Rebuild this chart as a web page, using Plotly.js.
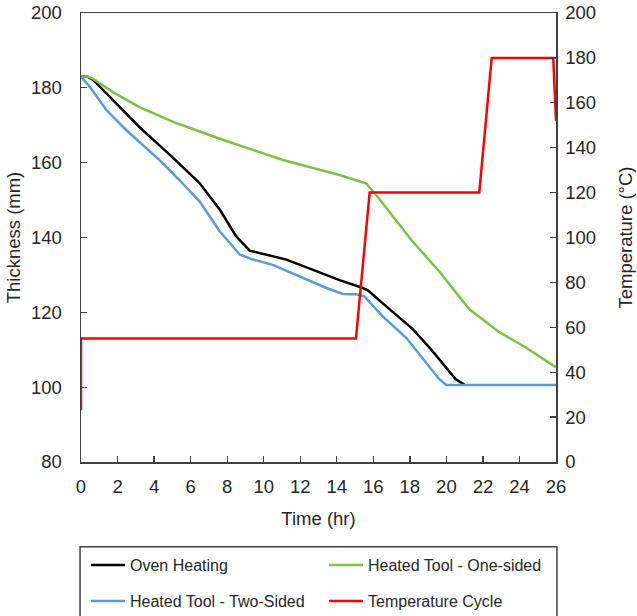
<!DOCTYPE html>
<html>
<head>
<meta charset="utf-8">
<script src="https://cdn.plot.ly/plotly-3.0.1.min.js"></script>
<style>html,body{margin:0;padding:0;background:#fff;}#chart{width:637px;height:616px;}</style>
</head>
<body>
<div id="chart"></div>
<script>
// Oven Heating (thickness, mm)
var ovenTime = [0, 0.35, 0.67, 1.4, 3.2, 5.0, 6.1, 6.5, 7.6, 8.5, 9.23, 10.15, 11.24, 12.88, 14.15, 15.43, 15.7, 16.9, 18.16, 19.16, 19.98, 20.5, 21.0];
var ovenThk  = [183.0, 183.0, 182.1, 178.4, 169.5, 161.5, 156.2, 154.5, 147.4, 140.3, 136.5, 135.4, 134.1, 131.0, 128.6, 126.5, 125.9, 120.8, 115.5, 110.1, 105.3, 102.2, 100.6];

// Heated Tool - One-sided
var oneTime = [0, 0.35, 0.67, 1.77, 3.23, 5.05, 7.6, 9.8, 11.05, 14.15, 15.6, 16.3, 18.07, 19.6, 21.26, 22.9, 24.35, 26];
var oneThk  = [183.0, 183.0, 182.4, 178.8, 174.8, 170.9, 166.4, 162.9, 160.7, 156.7, 154.5, 150.5, 139.4, 131.0, 120.8, 114.7, 110.6, 105.3];

// Heated Tool - Two-Sided
var twoTime = [0, 0.49, 1.4, 2.5, 4.3, 5.4, 6.5, 7.6, 8.7, 9.42, 10.5, 11.97, 13.43, 14.33, 15.07, 15.5, 16.5, 17.8, 18.9, 19.6, 20.0, 26];
var twoThk  = [183.0, 180.2, 174.0, 168.6, 160.7, 155.3, 149.6, 141.6, 135.4, 134.1, 132.7, 129.6, 126.5, 124.9, 124.8, 124.3, 119.0, 113.2, 106.6, 102.2, 100.6, 100.6];

// Temperature Cycle (°C)
var tempTime = [0, 0, 15.05, 15.8, 21.8, 22.48, 25.85, 26];
var tempVal  = [23, 55, 55, 120, 120, 180, 180, 152];

var seriesNames = ['Oven Heating', 'Heated Tool - One-sided', 'Heated Tool - Two-Sided', 'Temperature Cycle'];
var xTicks = [0, 2, 4, 6, 8, 10, 12, 14, 16, 18, 20, 22, 24, 26];
var yTicks = [80, 100, 120, 140, 160, 180, 200];
var y2Ticks = [0, 20, 40, 60, 80, 100, 120, 140, 160, 180, 200];

var FONT = 'Liberation Sans, Arial, sans-serif';
var TXT = '#262626';
var AX = '#404040';

var traces = [
  {x: ovenTime, y: ovenThk, name: seriesNames[0], mode: 'lines', line: {color: '#000000', width: 2.5}, legend: 'legend'},
  {x: oneTime, y: oneThk, name: seriesNames[1], mode: 'lines', line: {color: '#7cc242', width: 2.5}, legend: 'legend2'},
  {x: twoTime, y: twoThk, name: seriesNames[2], mode: 'lines', line: {color: '#5b9bd5', width: 2.5}, legend: 'legend3'},
  {x: tempTime, y: tempVal, name: seriesNames[3], mode: 'lines', line: {color: '#ff0000', width: 2.5}, yaxis: 'y2', legend: 'legend4'}
];

function leg(px, py) {
  return {x: px / 637, xref: 'container', xanchor: 'left',
          y: 1 - py / 616, yref: 'container', yanchor: 'middle', orientation: 'h',
          font: {family: FONT, size: 16, color: TXT}, bgcolor: 'rgba(0,0,0,0)',
          borderwidth: 0, itemwidth: 34};
}

var layout = {
  width: 637, height: 616,
  margin: {l: 81, r: 81, t: 13, b: 154},
  paper_bgcolor: '#ffffff', plot_bgcolor: '#ffffff',
  font: {family: FONT, size: 18.5, color: TXT},
  xaxis: {
    range: [0, 26], tickvals: xTicks, ticktext: xTicks.map(String),
    ticks: 'inside', ticklen: 6, tickwidth: 1.3, tickcolor: AX,
    showline: true, linecolor: AX, linewidth: 1.5, mirror: true,
    showgrid: false, zeroline: false, ticklabelstandoff: 7,
    title: {text: 'Time (hr)', standoff: 16, font: {family: FONT, size: 18.5, color: TXT}}
  },
  yaxis: {
    range: [80, 200], tickvals: yTicks, ticktext: yTicks.map(String),
    ticks: 'inside', ticklen: 6, tickwidth: 1.3, tickcolor: AX,
    showline: true, linecolor: AX, linewidth: 1.5, mirror: true,
    showgrid: false, zeroline: false, ticklabelstandoff: 14,
    title: {text: 'Thickness (mm)', standoff: 5, font: {family: FONT, size: 18.5, color: TXT}}
  },
  yaxis2: {
    range: [0, 200], tickvals: y2Ticks, ticktext: y2Ticks.map(String),
    overlaying: 'y', side: 'right',
    ticks: 'inside', ticklen: 6, tickwidth: 1.3, tickcolor: AX,
    showline: true, linecolor: AX, linewidth: 1.5,
    showgrid: false, zeroline: false, ticklabelstandoff: 4,
    title: {text: 'Temperature (°C)', standoff: 24, font: {family: FONT, size: 18.5, color: TXT}}
  },
  showlegend: true,
  legend: leg(86, 565),
  legend2: leg(324, 565),
  legend3: leg(86, 601),
  legend4: leg(324, 601),
  shapes: [
    {type: 'rect', xref: 'paper', yref: 'paper', x0: -0.002, x1: 1.002, y0: -0.189, y1: -0.36,
     line: {color: AX, width: 1.5}, fillcolor: 'rgba(0,0,0,0)'}
  ]
};

Plotly.newPlot('chart', traces, layout, {displayModeBar: false, staticPlot: true});
</script>
</body>
</html>
